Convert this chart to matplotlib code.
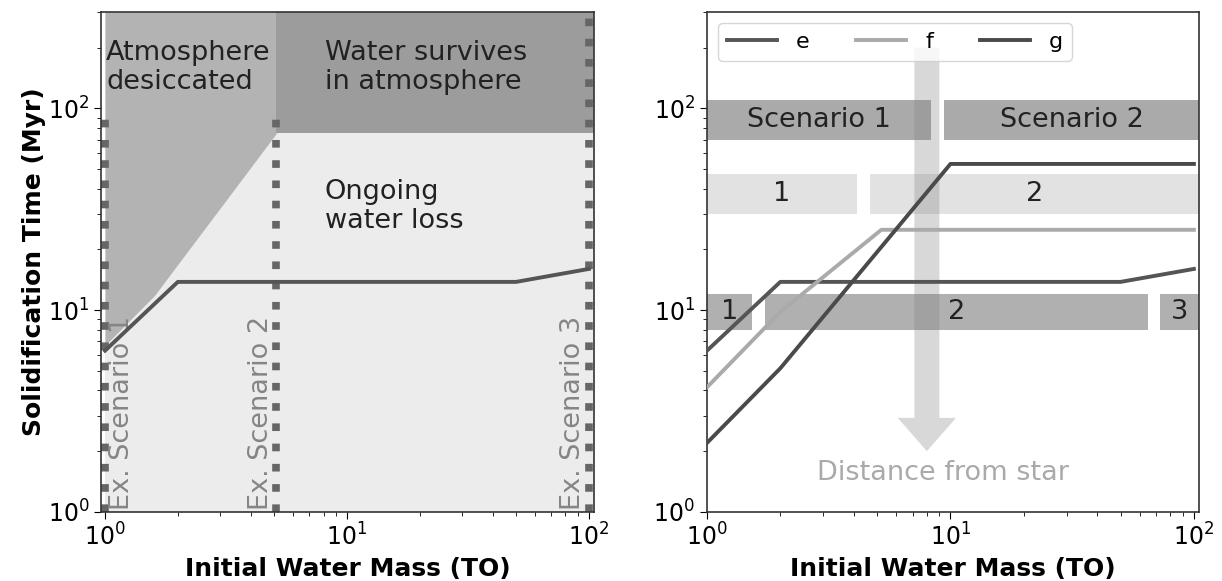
import numpy as np
import matplotlib
matplotlib.use("Agg")
import matplotlib.pyplot as plt


# solidification curves (initial water mass in TO, time in Myr)
mass_e = [1, 2, 50, 100]
time_e = [6.3, 13.8, 13.8, 16.0]

mass_f = [1, 2, 5.2, 100]
time_f = [4.15, 9.8, 25, 25]

mass_g = [1, 2, 10, 100]
time_g = [2.2, 5.15, 53, 53]

# left panel regions
desic_mass = [1, 1.6, 5.1]
desic_time = [6.7, 11.8, 75]
survive_time = 75
scenario_mass = [1.0, 5.1, 100]
scenario_top = [95, 95, 300]
scenario_labels = ["Ex. Scenario 1", "Ex. Scenario 2", "Ex. Scenario 3"]
scenario_text_x = [1.175, 4.4, 86]

# right panel bands: (bottom, top) and spans along x
row_limits = [(70, 110), (30, 47), (8, 12)]
row_spans = [
    [(1, 8.3), (9.4, 105)],
    [(1, 4.13), (4.67, 105)],
    [(1, 1.53), (1.73, 64.7), (72.8, 105)],
]
row_labels = [
    ["Scenario 1", "Scenario 2"],
    ["1", "2"],
    ["1", "2", "3"],
]
row_colors = ["#aaaaaa", "#e2e2e2", "#b0b0b0"]

line_colors = {"e": "#555555", "f": "#aaaaaa", "g": "#4a4a4a"}

fig = plt.figure(figsize=(12.22, 5.81), dpi=100)
ax1 = fig.add_axes([0.0827, 0.1188, 0.4034, 0.8606])
ax2 = fig.add_axes([0.5786, 0.1188, 0.4026, 0.8606])

# ---------------- left panel ----------------
ymax = 300
xmax = 105

# ongoing water loss (background)
ax1.fill_between([1, xmax], 1, ymax, color="#ececec", lw=0, zorder=0)

# desiccated region
ax1.fill_between(desic_mass, desic_time, ymax, color="#b3b3b3", lw=0, zorder=1)

# water survives
ax1.fill_between([desic_mass[-1], xmax], survive_time, ymax,
                 color="#9c9c9c", lw=0, zorder=1)

for xm, top in zip(scenario_mass, scenario_top):
    ax1.plot([xm, xm], [1, top], ls=":", lw=5.5, color="#666666",
             dash_capstyle="butt", zorder=2)

for xt, lab in zip(scenario_text_x, scenario_labels):
    ax1.text(xt, 1.02, lab, rotation=90, ha="center", va="bottom",
             fontsize=19.5, color="#858585", zorder=3)

ax1.plot(mass_e, time_e, color=line_colors["e"], lw=2.8, zorder=4)

ax1.text(1.01, 218, "Atmosphere\ndesiccated", ha="left", va="top",
         fontsize=19.5, color="#222222", zorder=5, linespacing=1.15)
ax1.text(8.1, 218, "Water survives\nin atmosphere", ha="left", va="top",
         fontsize=19.5, color="#222222", zorder=5, linespacing=1.15)
ax1.text(8.1, 44.6, "Ongoing\nwater loss", ha="left", va="top",
         fontsize=19.5, color="#222222", zorder=5, linespacing=1.15)

ax1.set_xscale("log")
ax1.set_yscale("log")
ax1.set_xlim(0.963, xmax)
ax1.set_ylim(1, ymax)
ax1.set_xlabel("Initial Water Mass (TO)", fontsize=18, fontweight="bold")
ax1.set_ylabel("Solidification Time (Myr)", fontsize=18, fontweight="bold",
               labelpad=1)

# ---------------- right panel ----------------
for (y0, y1), spans, labels, col in zip(row_limits, row_spans, row_labels, row_colors):
    for (x0, x1), lab in zip(spans, labels):
        ax2.fill_between([x0, x1], y0, y1, color=col, lw=0, zorder=1)
        ax2.text(np.sqrt(x0 * x1), np.sqrt(y0 * y1), lab, ha="center",
                 va="center", fontsize=19.5, color="#222222", zorder=5)

ax2.annotate("", xy=(8.0, 2.0), xytext=(8.0, 200),
             arrowprops=dict(arrowstyle="simple,head_length=24,head_width=42,tail_width=18",
                             mutation_scale=1, color="grey", alpha=0.3,
                             lw=0, shrinkA=0, shrinkB=0),
             zorder=2)
ax2.text(9.3, 1.56, "Distance from star", ha="center", va="center",
         fontsize=19.5, color="#aaaaaa", zorder=5)

ax2.plot(mass_e, time_e, color=line_colors["e"], lw=2.8, label="e", zorder=4)
ax2.plot(mass_f, time_f, color=line_colors["f"], lw=2.8, label="f", zorder=4)
ax2.plot(mass_g, time_g, color=line_colors["g"], lw=2.8, label="g", zorder=4)

ax2.legend(loc="upper left", ncol=3, fontsize=16, handlelength=2.25,
           columnspacing=2.1, handletextpad=0.85)

ax2.set_xscale("log")
ax2.set_yscale("log")
ax2.set_xlim(1, xmax)
ax2.set_ylim(1, ymax)
ax2.set_xlabel("Initial Water Mass (TO)", fontsize=18, fontweight="bold")

for ax in (ax1, ax2):
    ax.tick_params(axis="both", which="major", labelsize=17, length=5)
    ax.tick_params(axis="both", which="minor", length=3)
    for sp in ax.spines.values():
        sp.set_color("#333333")
        sp.set_linewidth(1.2)

fig.savefig("out.png", dpi=100)
